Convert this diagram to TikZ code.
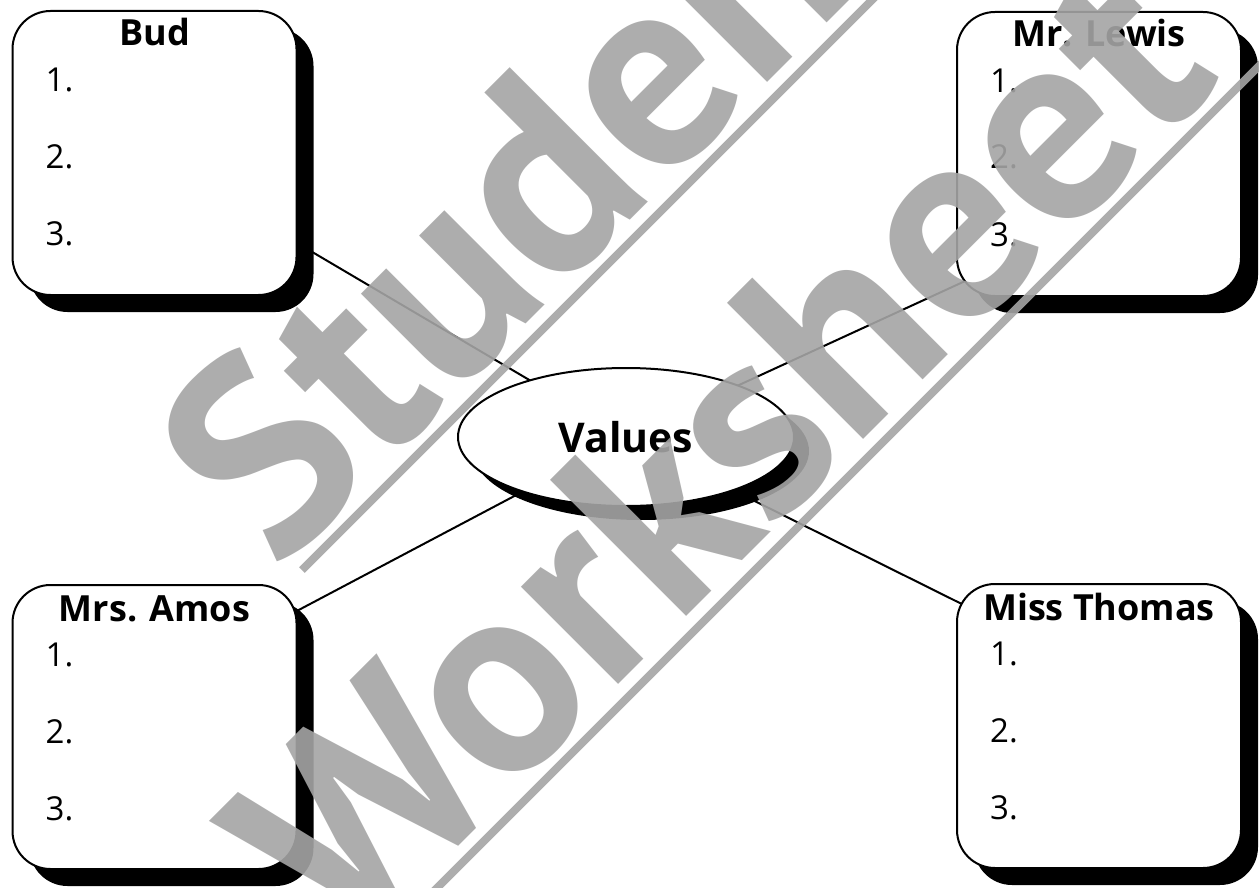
\documentclass[tikz,border=0pt]{standalone}
\usepackage{fontspec}
\setmainfont{Open Sans}
\newfontfamily\wmfont{PT Sans}
\usetikzlibrary{shapes.geometric,shadows,calc}
\pgfdeclarelayer{background}
\pgfsetlayers{background,main}
\definecolor{wm}{RGB}{165,165,165}
\tikzset{
  boxshape/.style={draw=black, line width=2pt, fill=white, rounded corners=38pt,
    minimum width=284pt, minimum height=284pt, inner sep=0pt,
    drop shadow={shadow xshift=17pt, shadow yshift=-17pt, fill=black, opacity=1}},
  ttl/.style={font=\fontsize{36}{40}\selectfont\bfseries, anchor=base, inner sep=0pt},
  item/.style={font=\fontsize{33}{36}\selectfont, anchor=base west, inner sep=0pt},
  conn/.style={draw=black, line width=2pt},
  valshape/.style={ellipse, draw=black, line width=2pt, fill=white,
    minimum width=336pt, minimum height=138pt, inner sep=0pt,
    font=\fontsize{41}{45}\selectfont\bfseries,
    drop shadow={shadow xshift=15pt, shadow yshift=-14pt, fill=black, opacity=1}},
  wmtext/.style={text=wm, text opacity=0.9, font=\wmfont\fontsize{275}{275}\selectfont\bfseries,
    rotate=45, anchor=base west, inner sep=0pt},
  wmline/.style={draw=wm, draw opacity=0.9, line width=8pt},
}
\begin{document}
\begin{tikzpicture}[x=1pt,y=-1pt]
\useasboundingbox (0,0) rectangle (1259,888);
\clip (0,0) rectangle (1259,888);

% boxes
\node[boxshape] (bud) at (154.5,153) {};
\node[boxshape] (lewis) at (1099,154) {};
\node[boxshape] (amos) at (154.5,727) {};
\node[boxshape] (thomas) at (1099,726) {};

% center ellipse
\node[valshape] (val) at (626,437) {Values};

% white page and connectors behind
\begin{pgfonlayer}{background}
\fill[white] (0,0) rectangle (1259,888);
\draw[conn] (val.center) -- ($(bud.center)+(95,62)$);
\draw[conn] (val.center) -- ($(lewis.center)+(-99,111)$);
\draw[conn] (val.center) -- ($(amos.center)+(95,-91)$);
\draw[conn] (val.center) -- ($(thomas.center)+(-99,-103)$);
\end{pgfonlayer}

% titles and items
\node[ttl] (budT) at ($(bud.north)+(0,36)$) {Bud};
\node[item] (bud1) at ($(bud.north west)+(34,82)$) {1.};
\node[item] (bud2) at ($(bud.north west)+(34,158)$) {2.};
\node[item] (bud3) at ($(bud.north west)+(34,235)$) {3.};

\node[ttl] (lewisT) at ($(lewis.north)+(0,36)$) {Mr. Lewis};
\node[item] (lewis1) at ($(lewis.north west)+(34,82)$) {1.};
\node[item] (lewis2) at ($(lewis.north west)+(34,158)$) {2.};
\node[item] (lewis3) at ($(lewis.north west)+(34,235)$) {3.};

\node[ttl] (amosT) at ($(amos.north)+(0,37)$) {Mrs. Amos};
\node[item] (amos1) at ($(amos.north west)+(34,82)$) {1.};
\node[item] (amos2) at ($(amos.north west)+(34,159)$) {2.};
\node[item] (amos3) at ($(amos.north west)+(34,236)$) {3.};

\node[ttl] (thomasT) at ($(thomas.north)+(0,37)$) {Miss Thomas};
\node[item] (thomas1) at ($(thomas.north west)+(34,82)$) {1.};
\node[item] (thomas2) at ($(thomas.north west)+(34,159)$) {2.};
\node[item] (thomas3) at ($(thomas.north west)+(34,236)$) {3.};

% watermark
\node[wmtext] (wmA) at (277,573) {Student};
\node[wmtext] (wmB) at (345,958) {Worksheet};
\draw[wmline] (302,570) -- (900,-28);
\draw[wmline] (420,905) -- (1290,35);
\end{tikzpicture}
\end{document}
